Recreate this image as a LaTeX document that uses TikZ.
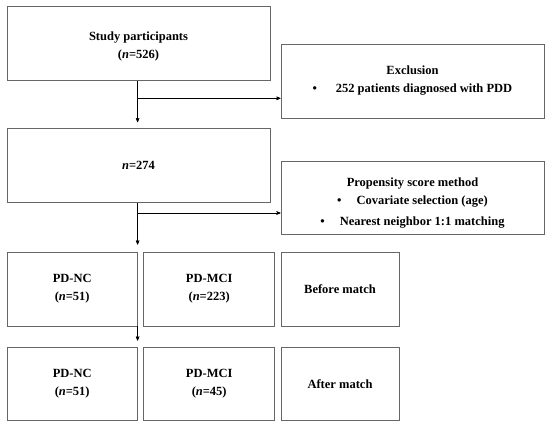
\documentclass[tikz,border=0pt]{standalone}
\usepackage{fontspec}
\setmainfont{Liberation Serif}
\usetikzlibrary{arrows,positioning,calc}

\begin{document}
\begin{tikzpicture}[->,>=stealth',x=1pt,y=-1pt,semithick,
                    font=\bfseries\fontsize{12.5}{18}\selectfont]
  \tikzstyle{every node}=[draw=black!60,line width=0.8pt,align=center,inner sep=2pt]
  \tikzstyle{wide}=[minimum width=263pt,minimum height=74pt]
  \tikzstyle{group}=[minimum width=131pt,minimum height=74pt]

  \useasboundingbox (0,0) rectangle (550,429);

  \node[wide]					(study)	at (138.5,43.8)		{\rule{0pt}{14pt}Study participants\\(\textit{n}=526)};
  \node[wide]					(excl)	at (412.5,80.9)		{Exclusion\\\textbullet\hspace{1.5em}252 patients diagnosed with PDD};
  \node[wide]					(total)	at (138.5,165.7)	{\textit{n}=274};
  \node[wide,minimum height=73pt]	(psm)	at (412.5,197.5)	{\rule{0pt}{19pt}Propensity score method\\\textbullet\hspace{1.2em}Covariate selection (age)\\[3pt]\textbullet\hspace{1.2em}Nearest neighbor 1:1 matching};

  \node[group,minimum width=130pt]	(nc1)	at (72.2,289)		{PD-NC\\(\textit{n}=51)};
  \node[group]					(mci1)	at (209.2,289)		{PD-MCI\\(\textit{n}=223)};
  \node[group,minimum width=118pt]	(before)	at (340,289)		{Before match};

  \node[group,minimum width=130pt,minimum height=73.5pt]	(nc2)	at (72.2,383.8)	{PD-NC\\(\textit{n}=51)};
  \node[group,minimum height=73.5pt]	(mci2)	at (209.2,383.8)	{PD-MCI\\(\textit{n}=45)};
  \node[group,minimum width=118pt,minimum height=73.5pt]	(after)	at (340,383.8)	{After match};

  \coordinate (b1) at (137.3,98.3);
  \coordinate (b2) at (137.3,213);

  \draw[shorten >=6pt]	(study.south -| nc1.east)	-- (total.north -| nc1.east);
  \draw					(b1)						-- (b1 -| excl.west);
  \draw[shorten >=7pt]	(total.south -| nc1.east)	-- (nc1.north east);
  \draw					(b2)						-- (b2 -| psm.west);
  \draw[shorten >=6pt]	(nc1.south east)			-- (nc2.north east);

\end{tikzpicture}
\end{document}
